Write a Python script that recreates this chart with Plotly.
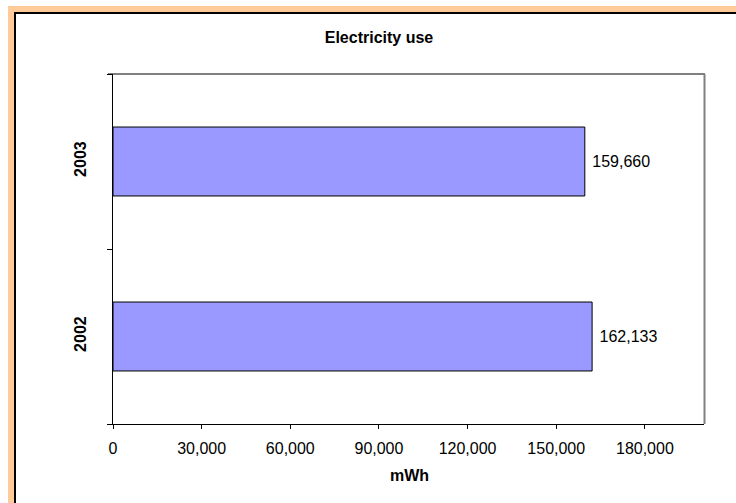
import plotly.graph_objects as go

# Annual electricity consumption
years = ["2002", "2003"]
usage_mwh = [162133, 159660]

x_ticks = [0, 30000, 60000, 90000, 120000, 150000, 180000]

W, H = 736, 503
L, R, T, B = 113, 704, 74, 424  # plot-area edges in pixels


def px_x(p):
    return (p - L) / (R - L)


def px_y(p):
    return (B - p) / (B - T)


FONT = "Liberation Sans, Arial, sans-serif"

fig = go.Figure(
    go.Bar(
        y=years,
        x=usage_mwh,
        orientation="h",
        marker=dict(color="#9999FF", line=dict(color="#000000", width=1)),
        text=usage_mwh,
        texttemplate=" %{x:,}",
        textposition="outside",
        textfont=dict(family=FONT, size=16, color="#000000"),
        cliponaxis=False,
        hoverinfo="skip",
    )
)

shapes = [
    # orange frame bands (top and left)
    dict(type="rect", xref="paper", yref="paper",
         x0=px_x(8), x1=px_x(736), y0=px_y(6), y1=px_y(13),
         fillcolor="#FFCC99", line=dict(width=0), layer="below"),
    dict(type="rect", xref="paper", yref="paper",
         x0=px_x(8), x1=px_x(14), y0=px_y(6), y1=px_y(503),
         fillcolor="#FFCC99", line=dict(width=0), layer="below"),
    # dark inner edges of the frame
    dict(type="line", xref="paper", yref="paper",
         x0=px_x(14), x1=px_x(736), y0=px_y(13), y1=px_y(13),
         line=dict(color="#000000", width=2)),
    dict(type="line", xref="paper", yref="paper",
         x0=px_x(15), x1=px_x(15), y0=px_y(12), y1=px_y(503),
         line=dict(color="#000000", width=2)),
    # plot-area border: top and right edges
    dict(type="line", xref="paper", yref="paper",
         x0=px_x(108), x1=px_x(705), y0=1, y1=1,
         line=dict(color="#000000", width=1)),
    dict(type="line", xref="paper", yref="paper",
         x0=px_x(704.5), x1=px_x(704.5), y0=0, y1=1,
         line=dict(color="#808080", width=2)),
]

fig.update_layout(
    width=W,
    height=H,
    margin=dict(l=L, r=W - R, t=T, b=H - B, pad=0),
    paper_bgcolor="#FFFFFF",
    plot_bgcolor="#FFFFFF",
    showlegend=False,
    bargap=0.606,
    font=dict(family=FONT, size=16, color="#000000"),
    title=dict(
        text="<b>Electricity use</b>",
        font=dict(family=FONT, size=16, color="#000000"),
        x=px_x(379), xref="paper", xanchor="center",
        y=1 - 37 / H, yref="container", yanchor="middle",
    ),
    xaxis=dict(
        range=[0, 200000],
        tickvals=x_ticks,
        tickformat=",",
        showgrid=False,
        zeroline=False,
        showline=True,
        linecolor="#000000",
        linewidth=1,
        ticks="outside",
        ticklen=4,
        tickcolor="#000000",
        tickfont=dict(family=FONT, size=16, color="#000000"),
        ticklabelstandoff=6,
        fixedrange=True,
    ),
    yaxis=dict(
        type="category",
        categoryorder="array",
        categoryarray=years,
        showgrid=False,
        zeroline=False,
        showline=True,
        linecolor="#000000",
        linewidth=1,
        ticks="outside",
        tickson="boundaries",
        ticklen=5,
        tickcolor="#000000",
        tickangle=-90,
        tickfont=dict(family=FONT, size=16, color="#000000", weight="bold"),
        ticklabelstandoff=20,
        fixedrange=True,
    ),
    shapes=shapes,
    annotations=[
        dict(text="<b>mWh</b>", xref="paper", yref="paper",
             x=px_x(409), y=px_y(475), xanchor="center", yanchor="middle",
             showarrow=False, font=dict(family=FONT, size=16, color="#000000")),
    ],
)

fig.write_html("out.html")
